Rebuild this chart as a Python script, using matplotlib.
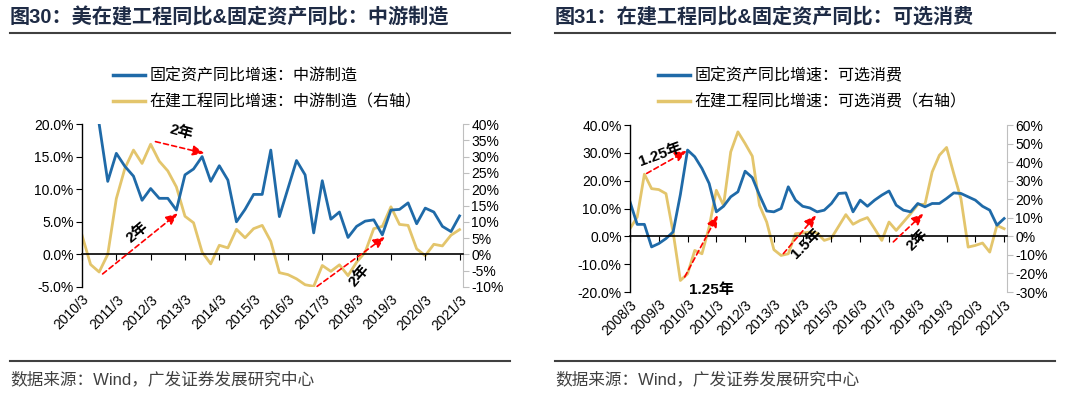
import matplotlib
matplotlib.use('Agg')
import matplotlib.pyplot as plt
import numpy as np
from matplotlib.lines import Line2D

plt.rcParams['font.family'] = ['Liberation Sans', 'Noto Sans CJK SC', 'DejaVu Sans']

CJK = ['Noto Sans CJK SC', 'DejaVu Sans']
MIX = ['Liberation Sans', 'Noto Sans CJK SC', 'DejaVu Sans']
BLUE = '#1f6aa8'
YELLOW = '#e3c56c'

# 中游制造, quarterly 2010/3 - 2021/3
x_mid = 2010 + np.arange(45) / 4
fa_mid = [np.nan, np.nan, 20.0, 11.2, 15.5, 13.5, 12.0, 8.3, 10.1, 8.6, 8.6, 6.8,
          12.2, 13.1, 15.0, 11.2, 13.6, 11.4, 5.0, 6.9, 9.2, 9.2, 16.0, 5.8,
          10.1, 14.4, 12.2, 3.3, 11.3, 5.4, 6.5, 2.6, 4.3, 5.1, 5.3, 3.0,
          6.8, 6.9, 7.9, 4.7, 7.1, 6.5, 4.3, 3.5, 5.9]
cip_mid = [5.9, -3.1, -5.4, 0.0, 17.1, 26.4, 32.0, 27.9, 33.8, 28.6, 25.6, 20.7,
           11.7, 9.7, 0.7, -2.9, 2.8, 2.0, 7.7, 5.1, 7.9, 8.9, 4.0, -5.6,
           -6.2, -7.5, -9.3, -9.8, -3.4, -5.2, -3.2, -6.5, -2.4, 0.7, 7.9, 8.6,
           14.6, 9.2, 8.9, 1.7, -0.4, 3.1, 2.6, 5.9, 7.6]
years_mid = list(range(2010, 2022))

# 可选消费, quarterly 2008/3 - 2021/3
x_con = 2008 + np.arange(53) / 4
fa_con = [12.4, 4.3, 4.3, -3.8, -2.6, -0.8, 1.6, 15.0, 31.0, 28.6, 24.4, 19.0,
          8.8, 10.8, 14.2, 16.0, 23.4, 21.1, 14.8, 9.1, 8.8, 10.0, 17.8, 13.0,
          10.8, 10.2, 8.8, 9.4, 11.8, 15.4, 15.6, 8.8, 13.0, 10.8, 13.0, 14.8,
          16.3, 11.2, 9.4, 8.8, 11.8, 10.6, 11.8, 11.8, 13.6, 15.6, 15.4, 14.2,
          13.0, 10.8, 9.4, 4.0, 6.4]
cip_con = [4.1, 10.4, 33.5, 25.7, 25.2, 23.0, 2.0, -23.8, -20.2, -7.6, -9.4, 5.0,
           24.8, 16.7, 45.5, 56.3, 50.0, 43.2, 16.7, 7.7, -7.2, -10.3, -9.4, 1.4,
           1.8, 2.3, 1.8, -2.2, -0.9, 5.4, 11.7, 6.5, 8.6, 10.1, 4.1, -2.2,
           7.7, 3.2, 7.7, 12.2, 17.1, 17.3, 34.7, 43.7, 47.9, 33.8, 20.3, -5.8,
           -4.9, -3.6, -8.5, 5.9, 4.1]
years_con = list(range(2008, 2022))

# arrows: (start, end, label, label pos, rotation), left-axis units
arrows_mid = [((2012.14, 17.3), (2013.57, 15.5), '2年', (2012.88, 18.7), -15),
              ((2010.60, -3.0), (2012.79, 6.3), '2年', (2011.60, 3.4), 40),
              ((2016.85, -4.9), (2018.83, 2.7), '2年', (2018.08, -3.2), 50)]
arrows_con = [((2008.58, 22.6), (2009.97, 30.7), '1.25年', (2009.05, 29.5), 20),
              ((2009.90, -14.6), (2011.05, 7.6), '1.25年', (2010.83, -19.4), 0),
              ((2013.33, -6.2), (2014.47, 7.6), '1.5年', (2014.13, -2.6), 45),
              ((2017.15, -2.0), (2018.20, 8.2), '2年', (2018.00, -1.2), 45)]


def graficar_panel(rect, x, fa, cip, years, lylim, lyticks, lfmt, rylim, ryticks,
                   flechas):
    ax = fig.add_axes(rect)
    ax2 = ax.twinx()
    ax.set_zorder(ax2.get_zorder() + 1)
    ax.patch.set_visible(False)

    ax2.plot(x, cip, color=YELLOW, lw=2.0)
    ax.plot(x, fa, color=BLUE, lw=2.0)

    ax.set_xlim(years[0], years[-1] + 0.1)
    ax.set_ylim(*lylim)
    ax.set_yticks(lyticks)
    ax.set_yticklabels([lfmt.format(v) for v in lyticks], fontsize=10)
    ax2.set_ylim(*rylim)
    ax2.set_yticks(ryticks)
    ax2.set_yticklabels(['{:d}%'.format(v) for v in ryticks], fontsize=10)

    ax.spines['top'].set_visible(False)
    ax.spines['right'].set_visible(False)
    ax.spines['bottom'].set_position(('data', 0))
    ax.spines['left'].set_linewidth(1.0)
    ax.spines['bottom'].set_linewidth(1.2)
    ax.set_xticks(years)
    ax.tick_params(axis='x', direction='out', length=4, labelbottom=False)
    ax.tick_params(axis='y', direction='out', length=4, pad=2)

    for s in ['top', 'left', 'bottom']:
        ax2.spines[s].set_visible(False)
    ax2.spines['right'].set_color('#bfbfbf')
    ax2.tick_params(axis='y', direction='out', length=4, color='#bfbfbf', pad=2)

    sec = ax.secondary_xaxis('bottom')
    sec.set_xticks(years)
    sec.set_xticklabels(['{}/3'.format(y) for y in years], rotation=45,
                        ha='right', rotation_mode='anchor', fontsize=10)
    sec.tick_params(length=0, pad=4)
    sec.spines['bottom'].set_visible(False)

    for ini, fin, txt, pos, rot in flechas:
        ax.annotate('', xy=fin, xytext=ini,
                    arrowprops=dict(arrowstyle='-|>,head_length=0.7,head_width=0.3',
                                    color='red', lw=1.2, ls=(0, (3, 2)),
                                    shrinkA=0, shrinkB=0))
        ax.text(pos[0], pos[1], txt, rotation=rot, ha='center', va='center',
                fontsize=11, fontweight='bold', color='black', family=MIX)
    return ax


fig = plt.figure(figsize=(10.8, 3.97), dpi=100)

graficar_panel([82 / 1080, 1 - 287 / 397, 381 / 1080, 163 / 397],
               x_mid, fa_mid, cip_mid, years_mid,
               (-5, 20), [-5, 0, 5, 10, 15, 20], '{:.1f}%',
               (-10, 40), list(range(-10, 45, 5)), arrows_mid)
graficar_panel([630 / 1080, 1 - 292 / 397, 377 / 1080, 167 / 397],
               x_con, fa_con, cip_con, years_con,
               (-20, 40), [-20, -10, 0, 10, 20, 30, 40], '{:.1f}%',
               (-30, 60), list(range(-30, 65, 10)), arrows_con)

# titles, rules, legends, source
titulos = ['图30：美在建工程同比&固定资产同比：中游制造',
           '图31：在建工程同比&固定资产同比：可选消费']
leyendas = [['固定资产同比增速：中游制造', '在建工程同比增速：中游制造（右轴）'],
            ['固定资产同比增速：可选消费', '在建工程同比增速：可选消费（右轴）']]
for k, x0 in enumerate([10, 555]):
    fig.text(x0 / 1080, 1 - 17 / 397, titulos[k], fontsize=14.5, fontweight='bold',
             color='#1e2b45', va='center', family=MIX)
    fig.add_artist(Line2D([x0 / 1080, (x0 + 500) / 1080], [1 - 33 / 397] * 2,
                          color='#404040', lw=1.5))
    fig.add_artist(Line2D([x0 / 1080, (x0 + 500) / 1080], [1 - 361 / 397] * 2,
                          color='#404040', lw=1.5))
    fig.text(x0 / 1080, 1 - 379 / 397, '数据来源：Wind，广发证券发展研究中心',
             fontsize=12, color='#404040', va='center', family=MIX)
    handles = [Line2D([], [], color=BLUE, lw=2.5), Line2D([], [], color=YELLOW, lw=2.5)]
    fig.legend(handles, leyendas[k], loc='upper left',
               bbox_to_anchor=((x0 + 89) / 1080, 1 - 53 / 397), frameon=False,
               handlelength=2.0, handletextpad=0.25, labelspacing=0.55,
               prop={'family': CJK, 'size': 11.5})

fig.savefig('out.png', dpi=100)
